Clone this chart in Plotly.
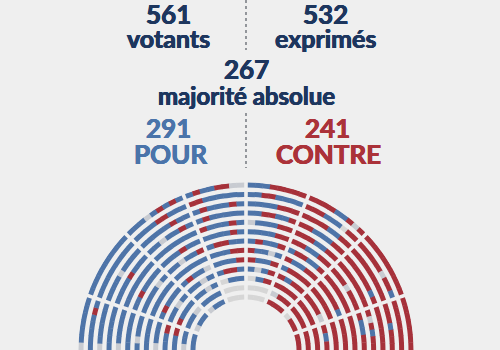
import math
import plotly.graph_objects as go

# ---- headline figures ----
votants = 561
exprimes = 532
majorite = 267
pour = 291
contre = 241

# ---- seat votes: each sector lists rows from outer to inner, seats from left to right
# P = pour, C = contre, A = abstention, N = non-votant
sector_L4 = ["APPPPPP", "PPPPPCP", "APPPPPP", "PPPPPP", "APPPPP", "PPPPP", "PAPPP",
             "PPPP", "APPP", "PPC", "PPC", "APP", "PP"]
sector_L3 = ["PPPPPPPPPP", "PPPPPPPPP", "PPPPAPPPP", "PPPPCPPP", "PPPPPPP", "PPCPPPP",
             "PPPPAP", "PPPPPP", "PCPPP", "PPAP", "CPPP", "PPA", "APP"]
sector_L2 = ["PPPAPCPCP", "PPPPCCPPP", "PPPPPCPP", "PPAPPCP", "PPPPPPP", "PPPCPP",
             "PPAPPC", "PPPPP", "PCPPA", "PPAP", "PPAP", "PPP", "APP"]
sector_L1 = ["PCPPCCAA", "CCPPPPPP", "PCPPPCP", "PCPPPPP", "CPPPCP", "PPPPCP",
             "PCCPP", "PPPCC", "PPPC", "PCCP", "NPP", "NNN", "NNN"]
sector_R1 = ["PPPCCCCC", "PPCCPPPP", "PPPPCCC", "PPCCPPC", "APPPCC", "PPPPCC",
             "PCPPC", "CPPAP", "CPPC", "PAPC", "NPC", "NNN", "NNN"]
sector_R2 = ["CCCCPPCAC", "CCCPPPNCC", "CCCCPPCC", "CCPPPCC", "CCCPPCC", "CCPPCC",
             "PCCPPC", "CPPCC", "PCCCC", "CPCC", "CCCC", "ACC", "CCC"]
sector_R3 = ["CCCCCCCCCC", "CCCCCACCP", "CCCCCCCCC", "CCCCCCPC", "CCCCCCC", "CCCACCC",
             "CCCCCC", "CCCCCP", "CCCCC", "CCCA", "CCCC", "CCC", "NCC"]
sector_R4 = ["CCCCCCC", "CCCCCCC", "CCCPCCC", "CCCCCC", "CACPCC", "CPPCC", "CCCCC",
             "CCCC", "CCCC", "CPC", "CCC", "CCC", "CCC"]

sectors = [sector_L4, sector_L3, sector_L2, sector_L1,
           sector_R1, sector_R2, sector_R3, sector_R4]
sector_edges = [180, 161, 136, 112, 90, 68, 44, 19, 0]

BG = "#efefef"
NAVY = "#1d365e"
BLUE_TXT = "#4a74aa"
RED_TXT = "#ab3239"
seat_colors = {"P": "#4e74a8", "C": "#a6313a", "A": "#c8cbd1", "N": "#d6d6d6"}

n_rows = 13
r_inner, row_step, row_th = 53.0, 9.33, 5.0
aisle_px, seat_overlap_px = 3.6, 0.4

thetas, widths, bases, cols = [], [], [], []
for s, rows in enumerate(sectors):
    hi, lo = sector_edges[s], sector_edges[s + 1]
    for i, row in enumerate(rows):
        k = n_rows - 1 - i
        rc = r_inner + row_step * k
        g_hi = 0 if hi == 180 else math.degrees(aisle_px / 2 / rc)
        g_lo = 0 if lo == 0 else math.degrees(aisle_px / 2 / rc)
        start = hi - g_hi
        span = (hi - lo) - g_hi - g_lo
        pitch = span / len(row)
        ov = math.degrees(seat_overlap_px / rc)
        for j, v in enumerate(row):
            c = start - pitch * (j + 0.5)
            w = pitch + ov
            # keep aisle edges crisp
            if j == 0:
                w = pitch + ov / 2
                c -= ov / 4
            if j == len(row) - 1:
                w = pitch + ov / 2
                c += ov / 4
            if len(row) == 1:
                w, c = pitch, start - pitch / 2
            thetas.append(c)
            widths.append(w)
            bases.append(rc - row_th / 2)
            cols.append(seat_colors[v])

fig = go.Figure()
fig.add_trace(go.Barpolar(
    r=[row_th] * len(thetas), base=bases, theta=thetas, width=widths,
    marker=dict(color=cols, line=dict(width=0)), hoverinfo="skip", showlegend=False))

R = 168
cx = 246
fig.update_layout(
    width=500, height=350,
    margin=dict(l=0, r=0, t=0, b=0),
    paper_bgcolor=BG, plot_bgcolor=BG,
    showlegend=False,
    polar=dict(
        domain=dict(x=[(cx - R) / 500, (cx + R) / 500], y=[0, R / 350]),
        sector=[0, 180], hole=0, bgcolor=BG,
        radialaxis=dict(visible=False, range=[0, R]),
        angularaxis=dict(visible=False, direction="counterclockwise", rotation=0),
    ),
)

def txt(s, x, y, size, color):
    sh = f"0.45px 0 0 {color}, -0.45px 0 0 {color}, 0 0.3px 0 {color}"
    fig.add_annotation(text=s, x=x / 500, y=1 - y / 350, xref="paper", yref="paper",
                       showarrow=False, xanchor="center", yanchor="middle",
                       font=dict(family="Lato", size=size, color=color, weight="bold",
                                 shadow=sh))

txt(str(votants), 168, 14, 26, NAVY)
txt("votants", 168, 38, 25, NAVY)
txt(str(exprimes), 325, 14, 26, NAVY)
txt("exprimés", 325, 38, 25, NAVY)
txt(str(majorite), 246, 69, 26, NAVY)
txt("majorité absolue", 246, 96, 24, NAVY)
txt(str(pour), 168, 128, 26, BLUE_TXT)
txt("POUR", 170, 154, 26, BLUE_TXT)
txt(str(contre), 327, 128, 26, RED_TXT)
txt("CONTRE", 328, 154, 26, RED_TXT)

for y0, y1 in [(0, 50), (113, 168)]:
    fig.add_shape(type="line", xref="paper", yref="paper",
                  x0=cx / 500, x1=cx / 500, y0=1 - y0 / 350, y1=1 - y1 / 350,
                  line=dict(color="#555a63", width=1.2, dash="dot"))

fig.write_html("out.html")
